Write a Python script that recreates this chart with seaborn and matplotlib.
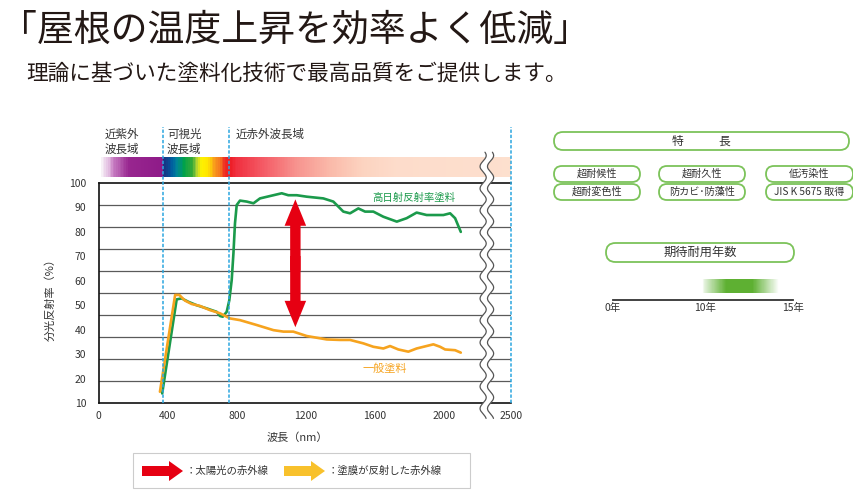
import numpy as np
import pandas as pd
import matplotlib
matplotlib.use("Agg")
import matplotlib.pyplot as plt
import seaborn as sns
from matplotlib.colors import LinearSegmentedColormap
from matplotlib.patches import FancyBboxPatch, FancyArrowPatch, FancyArrow, Rectangle, Polygon
from matplotlib.ticker import FixedLocator

# ---------------- data ----------------
title = "「屋根の温度上昇を効率よく低減」"
subtitle = "理論に基づいた塗料化技術で最高品質をご提供します。"

series_names = ["高日射反射率塗料", "一般塗料"]
series_colors = ["#1B9A4B", "#F6A31E"]

high_wl = [368, 452, 481, 520, 568, 626, 684, 703, 719, 742, 757, 771, 781, 790, 800,
           819, 858, 897, 935, 1013, 1061, 1099, 1148, 1206, 1302, 1360, 1418, 1457,
           1505, 1544, 1592, 1650, 1728, 1785, 1843, 1901, 1998, 2037, 2066, 2099]
high_refl = [13.9, 52.4, 52.8, 51.4, 50.0, 48.7, 47.3, 45.6, 45.3, 47.3, 52.0, 60.3, 71.2,
             83.5, 91.0, 92.8, 92.4, 91.7, 93.7, 95.0, 95.8, 95.0, 95.0, 94.4, 93.7, 92.4,
             88.3, 87.6, 89.6, 88.3, 88.3, 86.2, 84.2, 85.6, 87.9, 86.9, 86.9, 87.6, 85.6, 80.0]

std_wl = [355, 443, 467, 500, 539, 587, 645, 703, 761, 819, 916, 1013, 1071, 1128, 1206,
          1264, 1322, 1399, 1457, 1534, 1592, 1650, 1689, 1737, 1795, 1843, 1940, 1979,
          2008, 2066, 2099]
std_refl = [14.6, 54.2, 54.2, 51.9, 50.5, 49.7, 48.0, 46.7, 44.6, 43.9, 41.9, 39.8, 39.2,
            39.2, 37.4, 36.7, 36.0, 35.8, 35.8, 34.4, 33.0, 32.3, 33.3, 31.9, 31.0, 32.3,
            34.0, 33.0, 31.9, 31.6, 30.6]

x_ticks = [0, 400, 800, 1200, 1600, 2000, 2500]
y_ticks = [10, 20, 30, 40, 50, 60, 70, 80, 90, 100]
band_edges = [372, 758, 2500]
band_labels = ["近紫外\n波長域", "可視光\n波長域", "近赤外波長域"]
axis_break_nm = 2250

spectrum_nm = [13, 50, 80, 170, 371, 373, 420, 450, 490, 540, 565, 590, 630, 665, 700,
               730, 758, 800, 950, 1150, 1340, 1530, 1730, 2500]
spectrum_colors = ["#F7F0F7", "#E3BEE1", "#C77DC2", "#98268F", "#8E1A88", "#1C2C7E",
                   "#005DA0", "#00849A", "#00A14B", "#3AAA35", "#A6CE39", "#FFF200",
                   "#FFE600", "#F9A11B", "#F47920", "#EE2A24", "#ED1C24", "#F0303F",
                   "#F45A65", "#F7948F", "#FAB9A9", "#FCD3C0", "#FDDCCB", "#FDE0CE"]

arrow_wl = 1140
arrow_range = [41.0, 93.3]
note_lines = ["近赤外波長域での反射率の違いが", "「遮熱効果」を発現させる。"]

legend_items = ["：太陽光の赤外線", "：塗膜が反射した赤外線"]
legend_colors = ["#E60012", "#F8C12C"]

feature_title = "特　　　長"
features = [["超耐候性", "超耐久性", "低汚染性"],
            ["超耐変色性", "防カビ･防藻性", "JIS K 5675 取得"]]
life_title = "期待耐用年数"
life_ticks = [0, 10, 15]
life_tick_labels = ["0年", "10年", "15年"]
life_range = [9.7, 14.2]
life_peak = [11.2, 12.7]

# ---------------- style ----------------
sns.set_style("white")
plt.rcParams["font.family"] = ["Noto Sans CJK JP", "DejaVu Sans"]
plt.rcParams["axes.unicode_minus"] = False
TXT = "#333333"

W, H = 854, 500
fig = plt.figure(figsize=(W / 100, H / 100), dpi=100)


def rect(x0, y0, x1, y1):
    return [x0 / W, 1 - y1 / H, (x1 - x0) / W, (y1 - y0) / H]


# broken x axis: compress the part after the break
_src = [-1000, 0, axis_break_nm, 2500, 5000]
_dst = [-1000, 0, axis_break_nm, 2390, 4890]


def xfwd(x):
    return np.interp(x, _src, _dst)


def xinv(x):
    return np.interp(x, _dst, _src)


# ---------------- main chart ----------------
ax = fig.add_axes(rect(98.7, 183, 511, 403))
ax.set_zorder(3)
df = pd.DataFrame({
    "wl": high_wl + std_wl,
    "refl": high_refl + std_refl,
    "paint": [series_names[0]] * len(high_wl) + [series_names[1]] * len(std_wl),
})
sns.lineplot(data=df, x="wl", y="refl", hue="paint", hue_order=series_names,
             palette=series_colors, estimator=None, sort=False, lw=1.9,
             legend=False, ax=ax, zorder=5)
ax.set_xscale("function", functions=(xfwd, xinv))
ax.set_xlim(0, 2500)
ax.set_ylim(10, 100)
ax.set_xticks(x_ticks)
ax.set_xticklabels([str(t) for t in x_ticks])
ax.set_yticks(y_ticks)
ax.set_yticklabels([str(t) for t in y_ticks])
ax.yaxis.set_minor_locator(FixedLocator(np.linspace(10, 100, 11)[1:-1]))
ax.xaxis.set_minor_locator(FixedLocator([]))
ax.grid(False)
ax.grid(True, which="minor", axis="y", color="#5a5a5a", lw=0.9)
ax.tick_params(axis="y", which="both", length=0, labelsize=7.5, pad=9, labelcolor=TXT)
ax.tick_params(axis="x", which="major", direction="out", length=3, width=0.8,
               labelsize=7.5, pad=3, labelcolor=TXT, color="#111111")
for s in ["left", "bottom", "top"]:
    ax.spines[s].set_color("#111111")
    ax.spines[s].set_linewidth(1.2)
ax.spines["right"].set_visible(False)
ax.set_ylabel("分光反射率（%）", fontsize=8, color=TXT)
ax.yaxis.set_label_coords((56 - 98.7) / 412.3, (403 - 297) / 220)
ax.set_xlabel("波長（nm）", fontsize=8, color=TXT)
ax.xaxis.set_label_coords((297 - 98.7) / 412.3, (403 - 432) / 220)

# band boundary dashed lines
for wl in band_edges:
    ax.axvline(wl, ymin=0, ymax=(403 - 127) / 220, color="#2BA6DF", lw=1.1,
               ls=(0, (2.2, 1.2)), clip_on=False, zorder=7)

# series labels
ax.text(1584, 93.9, series_names[0], color=series_colors[0], fontsize=7.5, va="center", ha="left")
ax.text(1532, 23.9, series_names[1], color=series_colors[1], fontsize=8, va="center", ha="left")

# red double arrow (two overlapping halves)
mid = sum(arrow_range) / 2
for tip, start in [(arrow_range[0], mid + 3), (arrow_range[1], mid - 3)]:
    ax.add_patch(FancyArrowPatch((arrow_wl, start), (arrow_wl, tip),
                                 arrowstyle="simple,head_length=19,head_width=15.5,tail_width=7.5",
                                 mutation_scale=1, color="#E60012", lw=0,
                                 shrinkA=0, shrinkB=0, zorder=6))

# ---------------- spectrum bar ----------------
ax_spec = fig.add_axes(rect(98.7, 157, 511, 177), sharex=ax)
ax_spec.set_zorder(1)
pos = [(v - spectrum_nm[0]) / (spectrum_nm[-1] - spectrum_nm[0]) for v in spectrum_nm]
spec_cmap = LinearSegmentedColormap.from_list("spec", list(zip(pos, spectrum_colors)))
edges = np.linspace(spectrum_nm[0], spectrum_nm[-1], 900)
centers = (edges[:-1] + edges[1:]) / 2
vals = (centers - spectrum_nm[0]) / (spectrum_nm[-1] - spectrum_nm[0])
ax_spec.pcolormesh(edges, [0, 1], vals[None, :], cmap=spec_cmap, vmin=0, vmax=1,
                   shading="flat")
ax_spec.set_ylim(0, 1)
ax_spec.axis("off")
ax.set_xlim(0, 2500)

# axis break squiggle
xf = ax.transAxes.inverted().transform(ax.transData.transform((axis_break_nm, 50)))[0]
yy = np.linspace(-0.07, 1.14, 400)
wave = 0.0075 * np.sin(2 * np.pi * yy / 0.1)
xl = xf - 0.009 + wave
xr = xf + 0.009 + wave
ax.add_patch(Polygon(np.column_stack([np.r_[xl, xr[::-1]], np.r_[yy, yy[::-1]]]),
                     closed=True, transform=ax.transAxes, fc="white", ec="none",
                     clip_on=False, zorder=8))
ax.plot(xl, yy, transform=ax.transAxes, color="#555555", lw=0.9, clip_on=False, zorder=9)
ax.plot(xr, yy, transform=ax.transAxes, color="#555555", lw=0.9, clip_on=False, zorder=9)
ax.set_xlim(0, 2500)
ax.set_ylim(10, 100)

# ---------------- expected life scale ----------------
_ls = [-100, 0, 10, 15, 100]
_ld = [-920, 0, 92, 180, 1200]
ax_life = fig.add_axes(rect(613, 279, 793, 300))
ax_life.set_xscale("function", functions=(lambda v: np.interp(v, _ls, _ld),
                                          lambda v: np.interp(v, _ld, _ls)))
le = np.linspace(life_range[0], life_range[1], 150)
lc = (le[:-1] + le[1:]) / 2
inten = np.interp(lc, [life_range[0], life_peak[0], life_peak[1], life_range[1]], [0, 1, 1, 0])
life_cmap = LinearSegmentedColormap.from_list("life", ["#FFFFFF", "#5EB032"])
ax_life.pcolormesh(le, [0.33, 1.0], inten[None, :], cmap=life_cmap, vmin=0, vmax=1, shading="flat")
ax_life.set_xlim(0, 15)
ax_life.set_ylim(0, 1)
ax_life.set_xticks(life_ticks)
ax_life.set_xticklabels(life_tick_labels)
ax_life.xaxis.set_minor_locator(FixedLocator([]))
ax_life.set_yticks([])
for s in ["left", "right", "top"]:
    ax_life.spines[s].set_visible(False)
ax_life.spines["bottom"].set_color("#333333")
ax_life.spines["bottom"].set_linewidth(1.3)
ax_life.tick_params(axis="x", direction="in", length=5, width=1.2, color="#333333",
                    labelsize=7.5, pad=2, labelcolor=TXT)
ax_life.patch.set_alpha(0)

# ---------------- overlay (pixel coordinates) ----------------
ov = fig.add_axes([0, 0, 1, 1])
ov.set_xlim(0, W)
ov.set_ylim(H, 0)
ov.axis("off")

fig.text(0.0, 1 - 30 / H, title, fontsize=26.6, ha="left", va="center", color="#231815")
fig.text(26 / W, 1 - 74 / H, subtitle, fontsize=15.6, ha="left", va="center", color="#231815")

# band labels
ov.text(105, 128, band_labels[0], fontsize=8.3, va="top", ha="left", color=TXT, linespacing=1.2)
ov.text(167, 128, band_labels[1], fontsize=8.3, va="top", ha="left", color=TXT, linespacing=1.2)
ov.text(236, 128, band_labels[2], fontsize=8.3, va="top", ha="left", color=TXT)

# note box
ov.add_patch(Rectangle((308, 246.5), 162.3, 52, fc="#c8c8c8", ec="none", zorder=4))
ov.add_patch(Rectangle((305.7, 244), 162.3, 52, fc="white", ec="#8a8a8a", lw=0.8, zorder=5))
ov.text(313, 258, note_lines[0], fontsize=7, va="center", ha="left", color=TXT, zorder=6)
ov.text(313, 279, note_lines[1], fontsize=7, va="center", ha="left", color=TXT, zorder=6)

# bottom legend
ov.add_patch(Rectangle((133, 453), 337, 35, fc="white", ec="#cccccc", lw=0.8))
for x0, col, txt, tx in [(142, legend_colors[0], legend_items[0], 186),
                         (284, legend_colors[1], legend_items[1], 328)]:
    ov.add_patch(FancyArrow(x0, 471, 41, 0, width=10, head_width=20, head_length=14,
                            length_includes_head=True, color=col, lw=0))
    ov.text(tx, 471, txt, fontsize=7.5, va="center", ha="left", color=TXT)

# right panel pills
PILL = "#7CC35A"


def pill(x0, y0, x1, y1, text, fs):
    h = y1 - y0
    ov.add_patch(FancyBboxPatch((x0, y0), x1 - x0, h,
                                boxstyle=f"round,pad=0,rounding_size={h / 2}",
                                ec=PILL, fc="white", lw=1.3))
    ov.text((x0 + x1) / 2, (y0 + y1) / 2, text, ha="center", va="center",
            fontsize=fs, color=TXT)


pill(554, 132, 849, 150, feature_title, 8.5)
cols = [(554, 640), (659, 745), (766, 853)]
rows = [(166, 182), (184, 200)]
for r, (y0, y1) in enumerate(rows):
    for c, (x0, x1) in enumerate(cols):
        pill(x0, y0, x1, y1, features[r][c], 7.3)
pill(606, 243, 794, 262, life_title, 8.8)

fig.savefig("out.png", dpi=100)
